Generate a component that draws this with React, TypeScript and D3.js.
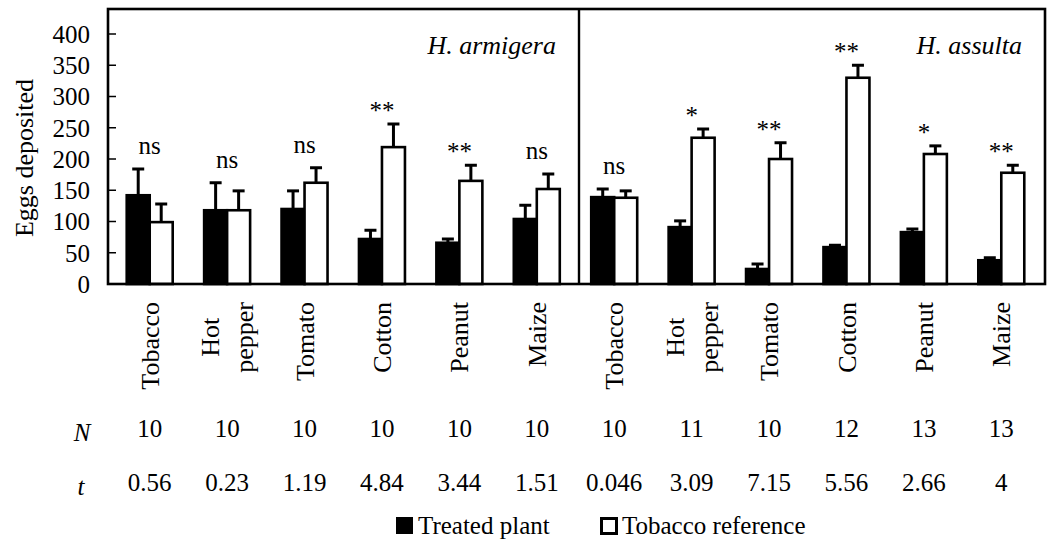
import React from "react";
import * as d3 from "d3";

// ---------- data ----------
const categories = ["Tobacco", "Hot pepper", "Tomato", "Cotton", "Peanut", "Maize"];
const species = ["H. armigera", "H. assulta"];

const armigeraTreated = [142, 118, 120, 72, 66, 104];
const armigeraTreatedSE = [42, 44, 29, 14, 6, 22];
const armigeraReference = [99, 118, 162, 219, 165, 152];
const armigeraReferenceSE = [29, 31, 24, 37, 25, 24];

const assultaTreated = [139, 91, 24, 59, 83, 38];
const assultaTreatedSE = [13, 10, 8, 3, 5, 4];
const assultaReference = [138, 234, 200, 330, 208, 178];
const assultaReferenceSE = [11, 14, 26, 20, 13, 12];

const armigeraSig = ["ns", "ns", "ns", "**", "**", "ns"];
const assultaSig = ["ns", "*", "**", "**", "*", "**"];

const armigeraN = ["10", "10", "10", "10", "10", "10"];
const assultaN = ["10", "11", "10", "12", "13", "13"];
const armigeraT = ["0.56", "0.23", "1.19", "4.84", "3.44", "1.51"];
const assultaT = ["0.046", "3.09", "7.15", "5.56", "2.66", "4"];

const yTicks = [0, 50, 100, 150, 200, 250, 300, 350, 400];
const seriesNames = ["Treated plant", "Tobacco reference"];

// ---------- layout ----------
const W = 1052;
const H = 542;
const FONT = "'Liberation Serif', 'Times New Roman', Times, serif";
const frame = { left: 108, right: 1045, top: 9, bottom: 284 };
const divider = 579;

type Group = {
  key: string;
  cat: string;
  sp: number;
  values: { s: string; v: number; se: number }[];
  sig: string;
  n: string;
  t: string;
};

const groups: Group[] = [];
[
  [armigeraTreated, armigeraTreatedSE, armigeraReference, armigeraReferenceSE, armigeraSig, armigeraN, armigeraT],
  [assultaTreated, assultaTreatedSE, assultaReference, assultaReferenceSE, assultaSig, assultaN, assultaT],
].forEach((arrs: any[], sp) => {
  categories.forEach((cat, i) => {
    groups.push({
      key: `${sp}-${i}`,
      cat,
      sp,
      values: [
        { s: "treated", v: arrs[0][i], se: arrs[1][i] },
        { s: "reference", v: arrs[2][i], se: arrs[3][i] },
      ],
      sig: arrs[4][i],
      n: arrs[5][i],
      t: arrs[6][i],
    });
  });
});

function measure(text: string, font: string): number {
  if (typeof document === "undefined") return text.length * 12;
  const c = document.createElement("canvas");
  const ctx = c.getContext("2d");
  if (!ctx) return text.length * 12;
  ctx.font = font;
  return ctx.measureText(text).width;
}

export default function App() {
  const x = d3
    .scaleBand<string>()
    .domain(groups.map((g) => g.key))
    .range([111, 1040])
    .paddingInner(0.406)
    .paddingOuter(0.203);
  const xi = d3.scaleBand<string>().domain(["treated", "reference"]).range([0, x.bandwidth()]);
  const y = d3.scaleLinear().domain([0, 440]).range([frame.bottom, frame.top]);

  const catFont = 26;
  const labelTop = 302;
  const capW = 12;

  return (
    <svg width={W} height={H} style={{ display: "block", position: "absolute", left: 0, top: 0 }} fontFamily={FONT}>
      <rect x={0} y={0} width={W} height={H} fill="#fff" />

      {/* bars + error bars */}
      {groups.map((g) => (
        <g key={g.key} transform={`translate(${x(g.key)},0)`}>
          {g.values.map((d) => {
            const bx = xi(d.s)!;
            const bw = xi.bandwidth();
            const cx = bx + bw / 2;
            return (
              <g key={d.s}>
                <line x1={cx} x2={cx} y1={y(d.v)} y2={y(d.v + d.se)} stroke="#000" strokeWidth={3} />
                <line x1={cx - capW / 2} x2={cx + capW / 2} y1={y(d.v + d.se)} y2={y(d.v + d.se)} stroke="#000" strokeWidth={3} />
                <rect
                  x={bx}
                  y={y(d.v)}
                  width={bw}
                  height={y(0) - y(d.v)}
                  fill={d.s === "treated" ? "#000" : "#fff"}
                  stroke="#000"
                  strokeWidth={2.6}
                />
              </g>
            );
          })}
        </g>
      ))}

      {/* significance labels */}
      {groups.map((g) => {
        const cx = x(g.key)! + x.bandwidth() / 2;
        const top = Math.max(...g.values.map((d) => d.v + d.se));
        const off = g.sig === "ns" ? 15 : 5;
        return (
          <text key={"sig" + g.key} x={cx} y={y(top) - off} textAnchor="middle" fontSize={25} fill="#000">
            {g.sig}
          </text>
        );
      })}

      {/* frame */}
      <rect
        x={frame.left}
        y={frame.top}
        width={frame.right - frame.left}
        height={frame.bottom - frame.top}
        fill="none"
        stroke="#000"
        strokeWidth={2.6}
      />
      <line x1={divider} x2={divider} y1={frame.top} y2={frame.bottom} stroke="#000" strokeWidth={2.4} />

      {/* y axis ticks */}
      {yTicks.map((t) => (
        <g key={"yt" + t}>
          <line x1={frame.left} x2={frame.left + 8} y1={y(t)} y2={y(t)} stroke="#000" strokeWidth={1.5} />
          <text x={90} y={y(t)} dy="0.35em" textAnchor="end" fontSize={25} fill="#000">
            {t}
          </text>
        </g>
      ))}
      <text
        transform={`translate(25,${158}) rotate(-90)`}
        textAnchor="middle"
        dy="0.32em"
        fontSize={26}
        fill="#000"
      >
        Eggs deposited
      </text>

      {/* species labels */}
      {species.map((s, i) => (
        <text
          key={s}
          x={(i === 0 ? divider : frame.right) - 23}
          y={54}
          textAnchor="end"
          fontSize={26}
          fontStyle="italic"
          fill="#000"
        >
          {s}
        </text>
      ))}

      {/* category labels */}
      {groups.map((g) => {
        const cx = x(g.key)! + x.bandwidth() / 2;
        const words = g.cat.split(" ");
        if (words.length === 1) {
          return (
            <text
              key={"cat" + g.key}
              transform={`translate(${cx},${labelTop}) rotate(-90)`}
              textAnchor="end"
              dy="0.35em"
              fontSize={catFont}
              fill="#000"
            >
              {g.cat}
            </text>
          );
        }
        const widths = words.map((w) => measure(w, `${catFont}px ${FONT}`));
        const maxW = Math.max(...widths);
        const mid = labelTop + maxW / 2;
        const n = words.length;
        return (
          <g key={"cat" + g.key} transform={`translate(${cx},${mid}) rotate(-90)`}>
            {words.map((w, k) => (
              <text
                key={w}
                x={0}
                y={0}
                dy={`${0.35 + (k - (n - 1) / 2) * 1.3}em`}
                textAnchor="middle"
                fontSize={catFont}
                fill="#000"
              >
                {w}
              </text>
            ))}
          </g>
        );
      })}

      {/* N and t rows */}
      <text x={82} y={441} textAnchor="middle" fontSize={25} fontStyle="italic" fill="#000">
        N
      </text>
      <text x={81} y={495} textAnchor="middle" fontSize={25} fontStyle="italic" fill="#000">
        t
      </text>
      {groups.map((g) => {
        const cx = x(g.key)! + x.bandwidth() / 2;
        return (
          <g key={"nt" + g.key}>
            <text x={cx} y={437} textAnchor="middle" fontSize={25} fill="#000">
              {g.n}
            </text>
            <text x={cx} y={491} textAnchor="middle" fontSize={25} fill="#000">
              {g.t}
            </text>
          </g>
        );
      })}

      {/* legend */}
      <rect x={396} y={517} width={17} height={17} fill="#000" />
      <text x={418} y={534} fontSize={25} fill="#000">
        {seriesNames[0]}
      </text>
      <rect x={601.5} y={518.5} width={15} height={15} fill="#fff" stroke="#000" strokeWidth={3} />
      <text x={622} y={534} fontSize={25} fill="#000">
        {seriesNames[1]}
      </text>
    </svg>
  );
}
